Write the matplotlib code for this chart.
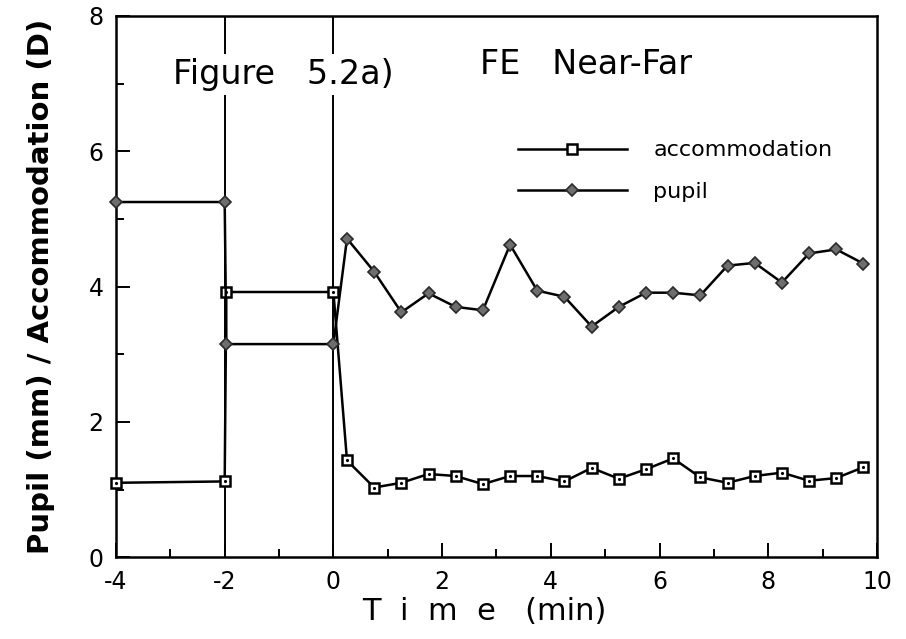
import matplotlib.pyplot as plt
from matplotlib.ticker import MultipleLocator

plt.rcParams['axes.unicode_minus'] = False

# data
t_pre = [-4, -2, -1.97, 0]
acc_pre = [1.10, 1.12, 3.92, 3.92]
pup_pre = [5.25, 5.25, 3.15, 3.15]

t_post = [0.25, 0.75, 1.25, 1.75, 2.25, 2.75, 3.25, 3.75, 4.25, 4.75,
          5.25, 5.75, 6.25, 6.75, 7.25, 7.75, 8.25, 8.75, 9.25, 9.75]
acc_post = [1.43, 1.03, 1.10, 1.23, 1.20, 1.08, 1.20, 1.20, 1.12, 1.32,
            1.16, 1.30, 1.46, 1.18, 1.10, 1.20, 1.25, 1.13, 1.17, 1.33]
pup_post = [4.71, 4.22, 3.62, 3.90, 3.70, 3.65, 4.62, 3.94, 3.85, 3.41,
            3.70, 3.91, 3.91, 3.87, 4.31, 4.35, 4.06, 4.49, 4.55, 4.34]

t = t_pre + t_post
acc = acc_pre + acc_post
pup = pup_pre + pup_post

event_times = [-2, 0]

fig = plt.figure(figsize=(9.06, 6.39), dpi=100)
ax = fig.add_axes([0.128, 0.128, 0.840, 0.847])

for xv in event_times:
    ax.axvline(xv, color='black', lw=1.4, zorder=1)

ax.plot(t, acc, color='black', lw=1.8, marker='s', ms=7.5, mfc='white',
        mec='black', mew=1.8, label='accommodation', zorder=3, clip_on=False)
# small dot in the middle of the open squares
ax.plot(t, acc, ls='none', marker='.', ms=2.5, color='black', zorder=4,
        clip_on=False)
ax.plot(t, pup, color='black', lw=1.8, marker='D', ms=6.5, mfc='#6e6e6e',
        mec='#2a2a2a', mew=1.2, label='pupil', zorder=3, clip_on=False)

ax.set_xlim(-4, 10)
ax.set_ylim(0, 8)
ax.xaxis.set_major_locator(MultipleLocator(2))
ax.xaxis.set_minor_locator(MultipleLocator(1))
ax.yaxis.set_major_locator(MultipleLocator(2))
ax.yaxis.set_minor_locator(MultipleLocator(1))
ax.tick_params(which='both', direction='in', top=False, right=False,
               labelsize=17, width=1.4)
ax.tick_params(which='major', length=10)
ax.tick_params(which='minor', length=6)
ax.tick_params(axis='x', pad=9)
ax.tick_params(axis='y', pad=9)
for s in ax.spines.values():
    s.set_linewidth(1.8)

ax.set_xlabel('T  i  m  e   (min)', fontsize=22)
ax.xaxis.set_label_coords(0.484, -0.074)
ax.set_ylabel('Pupil (mm) / Accommodation (D)', fontsize=21,
              fontweight='bold', labelpad=24)

ax.text(-2.95, 7.0, 'Figure   5.2a)', fontsize=24, ha='left', va='baseline',
        bbox=dict(facecolor='white', edgecolor='none', pad=3), zorder=2)
ax.text(2.7, 7.14, 'FE   Near-Far', fontsize=24, ha='left', va='baseline')

ax.legend(loc='upper left', bbox_to_anchor=(0.528, 0.770), frameon=False,
          fontsize=16, handlelength=4.9, handletextpad=1.2, labelspacing=0.98,
          borderpad=0, borderaxespad=0, markerscale=0.9)

fig.savefig('out.png', dpi=100)
